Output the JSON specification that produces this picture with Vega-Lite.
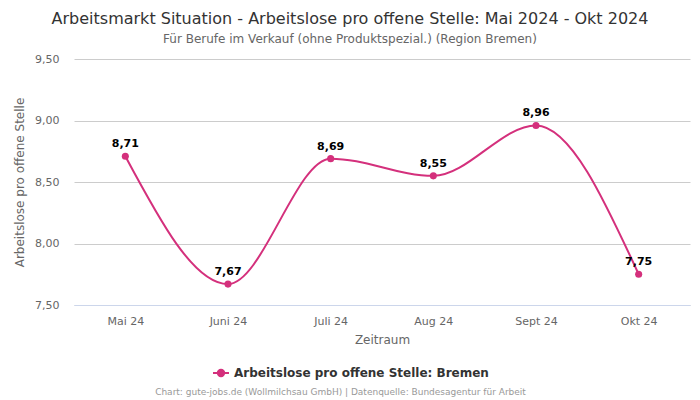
{
  "$schema": "https://vega.github.io/schema/vega-lite/v6.json",
  "width": 616,
  "height": 246,
  "autosize": {"type": "none"},
  "padding": {"left": 74, "top": 59, "right": 10, "bottom": 95},
  "title": {
    "text": "Arbeitsmarkt Situation - Arbeitslose pro offene Stelle: Mai 2024 - Okt 2024",
    "subtitle": "Für Berufe im Verkauf (ohne Produktspezial.) (Region Bremen)",
    "anchor": "middle",
    "dx": -32,
    "offset": 8,
    "font": "DejaVu Sans",
    "fontSize": 16,
    "fontWeight": "normal",
    "color": "#333333",
    "subtitleFont": "DejaVu Sans",
    "subtitleFontSize": 12,
    "subtitleColor": "#666666",
    "subtitlePadding": 7
  },
  "config": {
    "view": {"stroke": null},
    "locale": {
      "number": {"decimal": ",", "thousands": ".", "grouping": [3], "currency": ["", " €"]}
    },
    "font": "DejaVu Sans"
  },
  "resolve": {"axis": {"x": "independent"}},
  "data": {
    "values": [
      {"monat": "Mai 24", "wert": 8.71, "serie": "Arbeitslose pro offene Stelle: Bremen"},
      {"monat": "Juni 24", "wert": 7.67, "serie": "Arbeitslose pro offene Stelle: Bremen"},
      {"monat": "Juli 24", "wert": 8.69, "serie": "Arbeitslose pro offene Stelle: Bremen"},
      {"monat": "Aug 24", "wert": 8.55, "serie": "Arbeitslose pro offene Stelle: Bremen"},
      {"monat": "Sept 24", "wert": 8.96, "serie": "Arbeitslose pro offene Stelle: Bremen"},
      {"monat": "Okt 24", "wert": 7.75, "serie": "Arbeitslose pro offene Stelle: Bremen"}
    ]
  },
  "encoding": {
    "y": {
      "field": "wert",
      "type": "quantitative",
      "scale": {"domain": [7.5, 9.5], "nice": false, "zero": false},
      "axis": {
        "title": "Arbeitslose pro offene Stelle",
        "values": [7.5, 8, 8.5, 9, 9.5],
        "format": ".2f",
        "labelFont": "DejaVu Sans",
        "labelFontSize": 11,
        "labelColor": "#666666",
        "labelPadding": 15,
        "ticks": false,
        "domain": false,
        "grid": true,
        "gridColor": "#cccccc",
        "gridWidth": 1,
        "titleFont": "DejaVu Sans",
        "titleFontSize": 12,
        "titleFontWeight": "normal",
        "titleColor": "#666666",
        "titlePadding": 8
      }
    }
  },
  "layer": [
    {
      "mark": {"type": "line", "interpolate": "monotone", "strokeWidth": 2},
      "encoding": {
        "x": {
          "field": "monat",
          "type": "ordinal",
          "sort": null,
          "scale": {"type": "point", "padding": 0.5},
          "axis": {
            "title": "Zeitraum",
            "labelAngle": 0,
            "labelFont": "DejaVu Sans",
            "labelFontSize": 11,
            "labelColor": "#666666",
            "labelPadding": 10,
            "ticks": false,
            "domain": true,
            "domainColor": "#ccd6eb",
            "domainWidth": 1,
            "grid": false,
            "titleFont": "DejaVu Sans",
            "titleFontSize": 12,
            "titleFontWeight": "normal",
            "titleColor": "#666666",
            "titlePadding": 8
          }
        },
        "color": {
          "field": "serie",
          "type": "nominal",
          "scale": {"range": ["#d4307c"]},
          "legend": {
            "title": null,
            "orient": "none",
            "legendX": 138,
            "legendY": 305,
            "direction": "horizontal",
            "labelFont": "DejaVu Sans",
            "labelFontSize": 12,
            "labelFontWeight": "bold",
            "labelColor": "#333333",
            "labelLimit": 400,
            "symbolType": "M-1,0L1,0M0.4,0A0.4,0.4,0,1,1,-0.4,0A0.4,0.4,0,1,1,0.4,0Z",
            "symbolSize": 256,
            "symbolStrokeWidth": 2,
            "symbolFillColor": "#d4307c",
            "symbolStrokeColor": "#d4307c"
          }
        }
      }
    },
    {
      "mark": {"type": "point", "filled": true, "size": 50, "opacity": 1, "color": "#d4307c"},
      "encoding": {
        "x": {"field": "monat", "type": "ordinal", "sort": null, "axis": null}
      }
    },
    {
      "mark": {"type": "text", "dy": -12, "fontWeight": "bold", "fontSize": 11, "font": "DejaVu Sans", "color": "#000000"},
      "encoding": {
        "x": {
          "field": "monat",
          "type": "ordinal",
          "sort": null,
          "axis": {
            "orient": "bottom",
            "title": "Chart: gute-jobs.de (Wollmilchsau GmbH) | Datenquelle: Bundesagentur für Arbeit",
            "labels": false,
            "ticks": false,
            "domain": false,
            "grid": false,
            "titleFont": "DejaVu Sans",
            "titleFontSize": 9,
            "titleFontWeight": "normal",
            "titleColor": "#999999",
            "titleX": 266,
            "titleY": 82,
            "titleLimit": 600
          }
        },
        "text": {"field": "wert", "type": "quantitative", "format": ".2f"}
      }
    }
  ]
}
